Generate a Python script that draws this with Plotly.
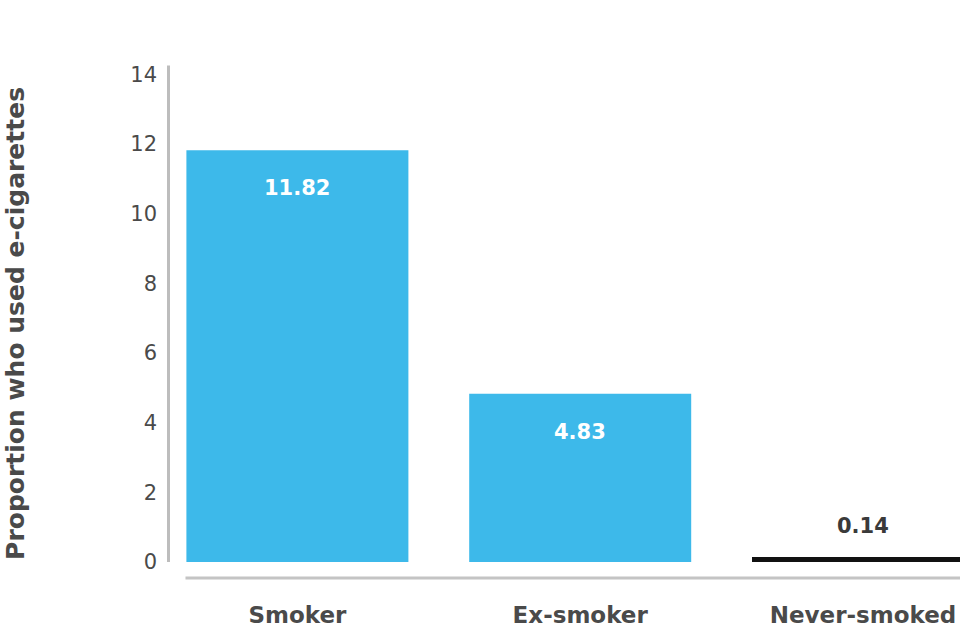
import plotly.graph_objects as go

categories = ["Smoker", "Ex-smoker", "Never-smoked"]
values = [11.82, 4.83, 0.14]
bar_colors = ["#3DB9EA", "#3DB9EA", "#111111"]
label_colors = ["#FFFFFF", "#FFFFFF", "#3a3a3a"]
label_shift = [-38, -38, 31]
y_ticks = [0, 2, 4, 6, 8, 10, 12, 14]
y_title = "Proportion who used e-cigarettes"

W, H = 960, 640
ml, mr, mt, mb = 155.5, 0, 57.4, 78
FONT = "DejaVu Sans"
TXT = "#4a4a4a"

fig = go.Figure()
fig.add_trace(go.Bar(
    x=list(range(len(categories))), y=values,
    marker=dict(color=bar_colors, line=dict(width=0)),
    hoverinfo="skip",
))

for i, (v, c, s) in enumerate(zip(values, label_colors, label_shift)):
    fig.add_annotation(
        x=i, y=v, yshift=s, text=f"{v:.2f}", showarrow=False,
        font=dict(family=FONT, size=21, color=c, weight="bold"),
        xref="x", yref="y",
    )

plot_w = W - ml - mr
plot_h = H - mt - mb

def px_x(p):
    return (p - ml) / plot_w

def px_y(p):
    return (H - mb - p) / plot_h

# vertical axis line and bottom baseline
fig.add_shape(type="line", xref="paper", yref="paper",
              x0=px_x(168), x1=px_x(168), y0=px_y(66), y1=px_y(562),
              line=dict(color="#BDBDBD", width=3))
fig.add_shape(type="line", xref="paper", yref="paper",
              x0=px_x(185), x1=px_x(962), y0=px_y(578), y1=px_y(578),
              line=dict(color="#C4C4C4", width=3))

fig.add_annotation(
    x=px_x(-1), y=px_y(324), xref="paper", yref="paper",
    text=y_title, textangle=-90, showarrow=False,
    font=dict(family=FONT, size=25, color=TXT, weight="bold"),
)

fig.update_layout(
    width=W, height=H,
    margin=dict(l=ml, r=mr, t=mt, b=mb, pad=0),
    paper_bgcolor="white", plot_bgcolor="white",
    showlegend=False,
    bargap=0.215,
    xaxis=dict(
        range=[-0.5, 2.343],
        tickmode="array", tickvals=list(range(len(categories))), ticktext=categories,
        showgrid=False, zeroline=False, showline=False, ticks="",
        tickfont=dict(family=FONT, size=23, color=TXT, weight="bold"),
        ticklabelstandoff=37,
    ),
    yaxis=dict(
        range=[0, 14.5],
        tickmode="array", tickvals=y_ticks,
        showgrid=False, zeroline=False, showline=False, ticks="",
        tickfont=dict(family=FONT, size=21, color=TXT),
        ticklabelstandoff=-2,
    ),
)

fig.write_html("out.html", config={"displayModeBar": False},
               post_script="document.body.style.margin='0';")
